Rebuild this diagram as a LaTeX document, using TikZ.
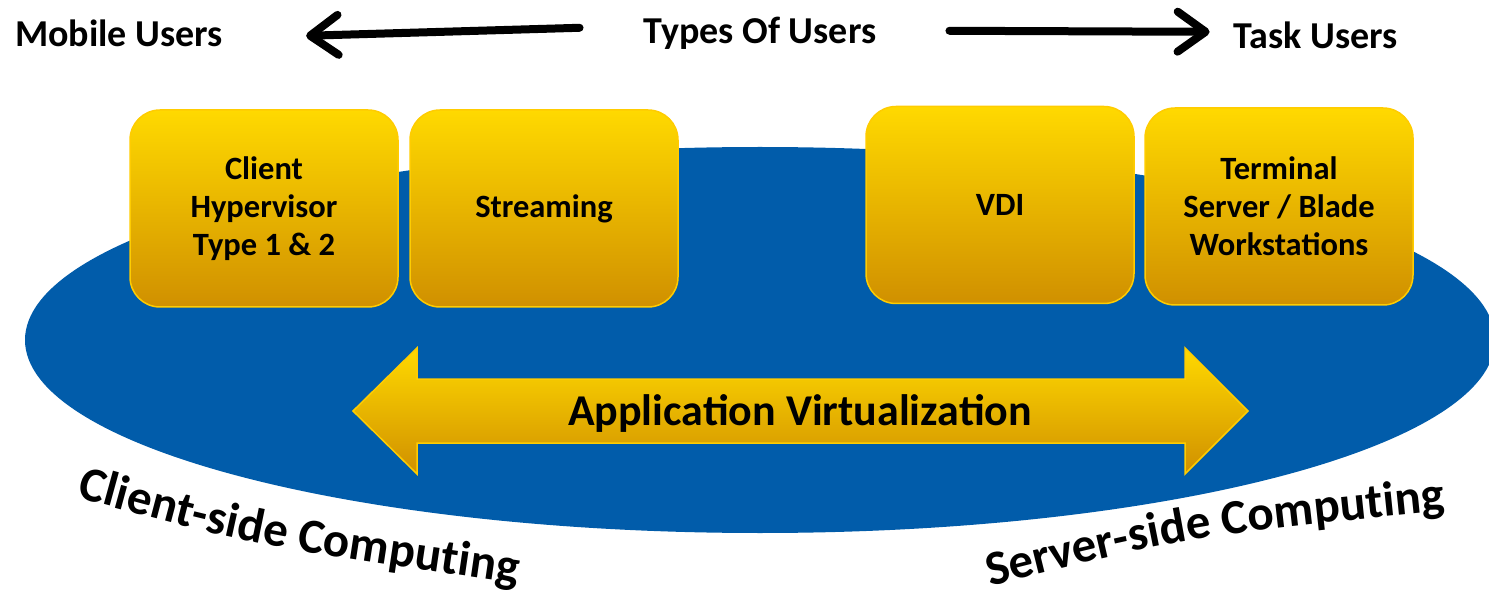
\documentclass[tikz,border=0pt]{standalone}
\usepackage{fontspec}
\setmainfont{Carlito}
\usetikzlibrary{arrows.meta,calc,decorations.text}

\definecolor{ellblue}{HTML}{015CAA}
\definecolor{goldtop}{HTML}{FFD900}
\definecolor{goldmid}{HTML}{F5BD00}
\definecolor{goldbot}{HTML}{D09000}
\definecolor{goldedge}{HTML}{FFCC00}

\newcommand\toplabelfont{\bfseries\fontsize{38}{40}\selectfont}
\newcommand\boxfont{\bfseries\fontsize{32.5}{38}\selectfont}
\newcommand\bandfont{\bfseries\fontsize{44}{48}\selectfont}
\newcommand\curvefont{\bfseries\fontsize{49}{52}\selectfont}

\begin{document}
\begin{tikzpicture}[x=1pt,y=1pt,
  toplabel/.style={font=\toplabelfont, inner sep=0pt},
  userarrow/.style={line width=8pt, line cap=round,
    -{Straight Barb[length=28pt,width=40pt,round]}},
  goldbox/.style={draw=goldedge, line width=1.5pt, rounded corners=30pt,
    top color=goldtop, middle color=goldmid, bottom color=goldbot,
    minimum width=268pt, minimum height=197pt, inner sep=0pt,
    align=center, font=\boxfont},
  goldband/.style={draw=goldedge, line width=1.5pt, line join=miter,
    top color=goldtop, middle color=goldmid, bottom color=goldbot},
  bandtext/.style={font=\bandfont, inner sep=0pt},
  curvetext/.style={decorate, decoration={text along path,
    text align=left, text={|\curvefont|#1}}}
]
\useasboundingbox (0,0) rectangle (1489,598);
\clip (0,0) rectangle (1489,598);

% blue base ellipse
\fill[ellblue] (760,258) ellipse [x radius=735, y radius=193];

% user types along the top
\node[toplabel, anchor=base] (types) at (760,554) {Types Of Users};
\node[toplabel, anchor=base west] (mobile) at (15,551) {Mobile Users};
\node[toplabel, anchor=base east] (task) at (1398,549) {Task Users};
\draw[userarrow] ($(types.west)+(-64,6)$) -- ($(mobile.east)+(83,-2)$);
\draw[userarrow] ($(types.east)+(73,3)$) -- ($(task.west)+(-24,4)$);

% technology boxes
\node[goldbox] (chyp) at (264,389.5) {Client\\Hypervisor\\Type 1 \& 2};
\node[goldbox] (stream) at (544,389.5) {Streaming};
\node[goldbox] (vdi) at (1000,393) {VDI};
\node[goldbox] (tsb) at (1279,391.5) {Terminal\\Server / Blade\\Workstations};

% double-headed band
\path[goldband] (353,187) -- (417,250) -- (417,219) -- (1185,219)
  -- (1185,250) -- (1248,187) -- (1185,124) -- (1185,155)
  -- (417,155) -- (417,124) -- cycle;
\node[bandtext, anchor=base] (appv) at (800,173) {Application Virtualization};

% arched captions below the ellipse
\path[curvetext={Client-side Computing}]
  (76,101) .. controls (250,53) .. (560,8);
\path[curvetext={Server-side Computing}]
  (990,12) .. controls (1190,62) .. (1488,92);
\end{tikzpicture}
\end{document}
